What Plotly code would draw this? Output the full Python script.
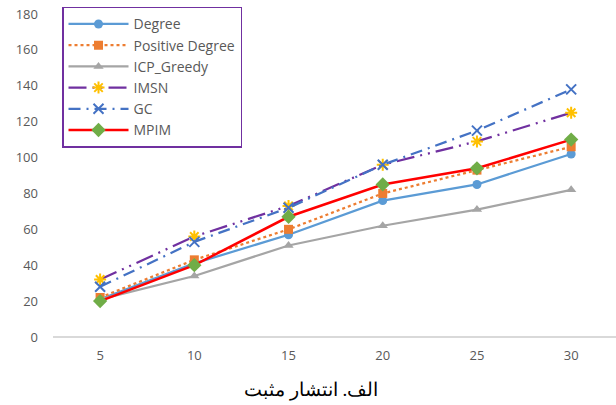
import plotly.graph_objects as go

# Spread size on the x axis
x_vals = [5, 10, 15, 20, 25, 30]

degree = [21, 41, 57, 76, 85, 102]
positive_degree = [22, 43, 60, 80, 93, 106]
icp_greedy = [21, 34, 51, 62, 71, 82]
imsn = [32, 56, 73, 96, 109, 125]
gc = [28, 53, 72, 96, 115, 138]
mpim = [20, 40, 67, 85, 94, 110]

y_ticks = [0, 20, 40, 60, 80, 100, 120, 140, 160, 180]
caption = "الف. انتشار مثبت"

series = [
    dict(name="Degree", y=degree,
         line=dict(color="#5B9BD5", width=2.25, dash="solid"),
         marker=dict(symbol="circle", size=9, color="#5B9BD5")),
    dict(name="Positive Degree", y=positive_degree,
         line=dict(color="#ED7D31", width=2.25, dash="dot"),
         marker=dict(symbol="square", size=9, color="#ED7D31")),
    dict(name="ICP_Greedy", y=icp_greedy,
         line=dict(color="#A5A5A5", width=2.25, dash="solid"),
         marker=dict(symbol="triangle-up", size=9, color="#A5A5A5")),
    dict(name="IMSN", y=imsn,
         line=dict(color="#7030A0", width=2.25, dash="18px,6px,2px,6px,2px,6px"),
         marker=dict(symbol="asterisk-open", size=10, color="#FFC000",
                     line=dict(color="#FFC000", width=2))),
    dict(name="GC", y=gc,
         line=dict(color="#4472C4", width=2.25, dash="12px,6px,2px,6px"),
         marker=dict(symbol="x-thin-open", size=10, color="#4472C4",
                     line=dict(color="#4472C4", width=2))),
    dict(name="MPIM", y=mpim,
         line=dict(color="#FF0000", width=2.5, dash="solid"),
         marker=dict(symbol="diamond", size=11, color="#70AD47")),
]

fig = go.Figure()
for i, s in enumerate(series):
    fig.add_trace(go.Scatter(
        x=x_vals, y=s["y"], name=s["name"], mode="lines+markers",
        line=s["line"], marker=s["marker"], legendgroup=f"g{i}",
    ))

fig.update_layout(
    width=616, height=405,
    margin=dict(l=53, r=0, t=14, b=68),
    paper_bgcolor="white", plot_bgcolor="white",
    font=dict(family="'Open Sans', sans-serif", size=13, color="#595959"),
    showlegend=True,
    legend=dict(
        x=0.016, y=1.022, xanchor="left", yanchor="top",
        bgcolor="white", bordercolor="#7030A0", borderwidth=1.5,
        font=dict(family="'Open Sans', sans-serif", size=14, color="#595959"),
        traceorder="grouped", tracegroupgap=0,
        itemwidth=60,
    ),
    xaxis=dict(
        range=[2.5, 32.38], tickvals=x_vals, ticktext=[str(v) for v in x_vals],
        showgrid=False, zeroline=False, showline=False,
        ticks="", ticklabelstandoff=9,
    ),
    yaxis=dict(
        range=[0, 180], tickvals=y_ticks, showgrid=False,
        zeroline=True, zerolinecolor="#D9D9D9", zerolinewidth=1.5,
        showline=False, ticks="", ticklabelstandoff=14,
    ),
    annotations=[dict(
        text=caption, xref="paper", yref="paper", x=0.458, y=-0.163,
        xanchor="center", yanchor="middle", showarrow=False,
        font=dict(family="'Times New Roman', 'DejaVu Serif', serif", size=19, color="black"),
    )],
)

fig.write_html("out.html")
